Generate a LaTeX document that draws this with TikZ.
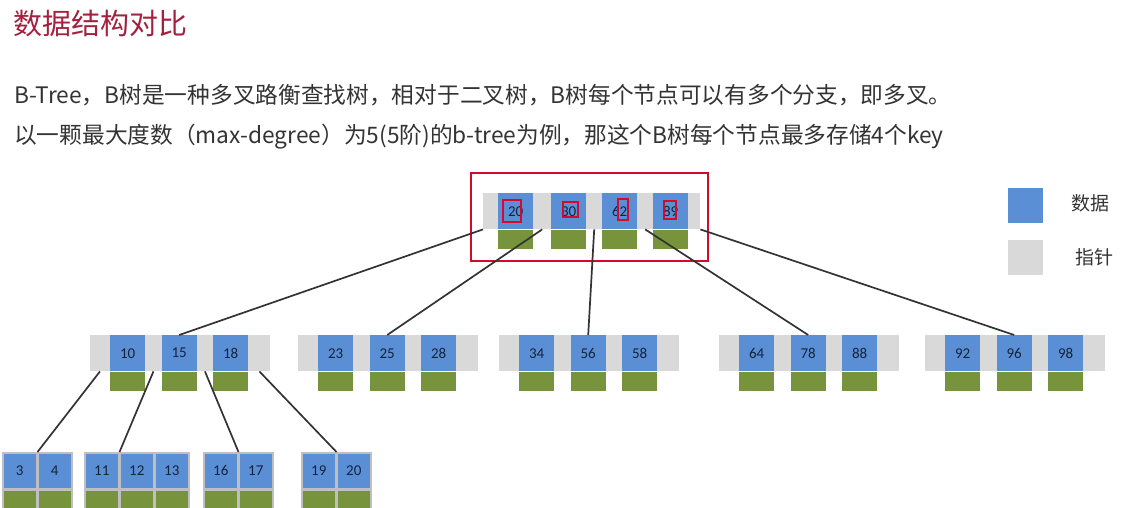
\documentclass[tikz,border=0pt]{standalone}
\usepackage{fontspec}
\setmainfont{Carlito}
\newfontfamily\cjk{Noto Sans CJK SC}
\usetikzlibrary{positioning,calc}
\definecolor{keyblue}{HTML}{5A8FD6}
\definecolor{ptrgray}{HTML}{D9D9D9}
\definecolor{leafgray}{HTML}{BFBFBF}
\definecolor{datgreen}{HTML}{77933C}
\definecolor{markred}{HTML}{D20A2E}
\definecolor{titlered}{HTML}{A3203F}
\definecolor{txtgray}{HTML}{333333}
\definecolor{keytxt}{HTML}{14233C}

\begin{document}
\begin{tikzpicture}[x=1pt,y=-1pt,
  key/.style={fill=keyblue, minimum width=35pt, minimum height=36pt, inner sep=0pt,
    anchor=north west, font=\fontsize{15}{15}\selectfont, text=keytxt},
  bar/.style={fill=ptrgray, minimum height=36pt, inner sep=0pt, anchor=north west},
  dat/.style={fill=datgreen, minimum width=35pt, minimum height=19pt, inner sep=0pt, anchor=north},
  leafkey/.style={key, draw=leafgray, line width=1.5pt, minimum width=34pt},
  leafdat/.style={dat, draw=leafgray, line width=1.5pt, minimum width=34pt},
  link/.style={draw=black!80, line width=1.7pt},
  body/.style={anchor=west, inner sep=0pt, text=txtgray, font=\cjk\fontsize{22.7}{22.7}\selectfont}]
\useasboundingbox (0,0) rectangle (1132,507);

% heading and text
\node[anchor=west, inner sep=0pt, text=titlered, font=\cjk\fontsize{29}{29}\selectfont] (title) at (13,24) {数据结构对比};
\node[body] (line1) at (14,95) {B-Tree，B树是一种多叉路衡查找树，相对于二叉树，B树每个节点可以有多个分支，即多叉。};
\node[body] (line2) at (14,137) {以一颗最大度数（max-degree）为5(5阶)的b-tree为例，那这个B树每个节点最多存储4个key};

% root
\node[bar, minimum width=217pt] (root) at (483,193) {};
\foreach \k/\x [count=\i] in {20/498,30/551,62/602,89/653} {
  \node[key] (r\i) at (\x,193) {\k};
  \node[dat] (rd\i) at (r\i.south) {};
}
\foreach \i/\xa/\ya/\xb/\yb in {1/-13/-11/5/11, 2/-5.5/-9/9.5/6, 3/-1.5/-12/8.5/9, 4/-6.5/-10/5.5/8} {
  \draw[markred, line width=1.6pt] ($(r\i.center)+(\xa,\ya)$) rectangle ($(r\i.center)+(\xb,\yb)$);
}
\node[draw=markred, line width=1.6pt, minimum width=237pt, minimum height=88pt] (focus) at (589.5,217) {};

% middle level
\foreach \n/\bx/\ka/\kb/\kc in {1/90/10/15/18, 2/298/23/25/28, 3/499/34/56/58, 4/719/64/78/88, 5/925/92/96/98} {
  \node[bar, minimum width=180pt] (m\n) at (\bx,335) {};
  \foreach \k [count=\j] in {\ka,\kb,\kc} {
    \node[key] (m\n k\j) at ({\bx+20+(\j-1)*51.5},335) {\k};
    \node[dat] (m\n d\j) at (m\n k\j.south) {};
  }
}

% leaves
\foreach \l/\lx/\keys in {1/2/{3,4}, 2/84/{11,12,13}, 3/203/{16,17}, 4/301/{19,20}} {
  \foreach \k [count=\j] in \keys {
    \node[leafkey] (l\l k\j) at ({\lx+(\j-1)*35},452) {\k};
    \node[leafdat] (l\l d\j) at (l\l k\j.south) {};
  }
}

% pointers
\coordinate (p0) at (root.south west);
\coordinate (p1) at ($(r1.south east)!0.5!(r2.south west)$);
\coordinate (p2) at ($(r2.south east)!0.5!(r3.south west)$);
\coordinate (p3) at ($(r3.south east)!0.5!(r4.south west)$);
\coordinate (p4) at (root.south east);
\foreach \i [count=\n] in {0,...,4} {
  \draw[link] (p\i) -- (m\n k2.north);
}
\coordinate (q0) at ($(m1.south west)!0.5!(m1k1.south west)$);
\coordinate (q1) at ($(m1k1.south east)!0.5!(m1k2.south west)$);
\coordinate (q2) at ($(m1k2.south east)!0.5!(m1k3.south west)$);
\coordinate (q3) at ($(m1k3.south east)!0.5!(m1.south east)$);
\foreach \i [count=\l] in {0,...,3} {
  \draw[link] (q\i) -- (l\l k1.north east);
}

% legend
\node[fill=keyblue, minimum size=35pt, inner sep=0pt] (legdata) at (1025.5,205) {};
\node[fill=ptrgray, minimum size=35pt, inner sep=0pt] (legptr) at (1025.5,257.5) {};
\node[anchor=west, inner sep=0pt, text=txtgray, font=\cjk\fontsize{19}{19}\selectfont] (legdatatxt) at (1071,203) {数据};
\node[anchor=west, inner sep=0pt, text=txtgray, font=\cjk\fontsize{19}{19}\selectfont] (legptrtxt) at (1075,257) {指针};
\end{tikzpicture}
\end{document}
